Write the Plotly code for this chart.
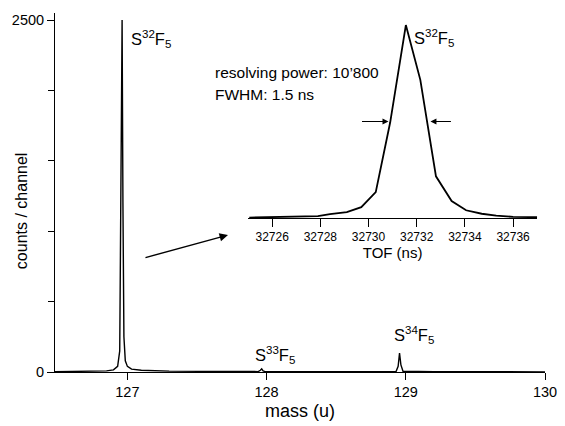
import plotly.graph_objects as go

# main spectrum (mass in u, counts per channel)
mass = [126.48, 126.70, 126.85, 126.90, 126.93, 126.945, 126.955, 126.962, 126.968,
        126.975, 126.985, 127.00, 127.03, 127.10, 127.30, 127.60, 127.94, 127.955,
        127.965, 127.975, 127.99, 128.50, 128.93, 128.945, 128.955, 128.965, 128.98,
        129.20, 130.00]
counts = [2, 3, 8, 15, 40, 150, 1200, 2500, 1200,
          250, 80, 40, 20, 12, 6, 4, 3, 12,
          22, 8, 3, 2, 3, 40, 135, 50, 5,
          2, 1]

# inset: S32F5 peak in time of flight
tof = [32725.05, 32726.0, 32727.2, 32727.9, 32728.4, 32729.1, 32729.7, 32730.3,
       32730.9, 32731.55, 32732.15, 32732.8, 32733.45, 32734.05, 32734.7, 32735.3,
       32736.0, 32737.0]
tof_counts = [5, 10, 15, 25, 50, 75, 140, 335,
              1240, 2500, 1790, 540, 220, 100, 55, 30,
              15, 10]

mass_ticks = [127, 128, 129, 130]
count_ticks = [0, 2500]
count_minor = [500, 1000, 1500, 2000]
tof_ticks = [32726, 32728, 32730, 32732, 32734, 32736]

FONT = 'Liberation Sans, Arial, sans-serif'

fig = go.Figure()
fig.add_trace(go.Scatter(x=mass, y=counts, mode='lines',
                         line=dict(color='black', width=1.4), xaxis='x', yaxis='y'))
fig.add_trace(go.Scatter(x=tof, y=tof_counts, mode='lines',
                         line=dict(color='black', width=1.8), xaxis='x2', yaxis='y2'))

# the page body adds an 8px margin, so the figure is 8px smaller than the window
fig.update_layout(
    width=557, height=418,
    margin=dict(l=47, r=20, t=5, b=54),
    paper_bgcolor='white', plot_bgcolor='white',
    showlegend=False,
    font=dict(family=FONT, size=15, color='black'),
    xaxis=dict(domain=[0, 1], range=[126.48, 130], tickvals=mass_ticks,
               ticks='outside', ticklen=7, tickcolor='black', showline=True,
               linecolor='black', linewidth=1, showgrid=False, zeroline=False,
               automargin=False, title=dict(text='mass (u)', standoff=4),
               tickfont=dict(size=14.5)),
    yaxis=dict(domain=[0, 1], range=[0, 2550], tickvals=count_ticks,
               ticks='outside', ticklen=7, tickcolor='black',
               minor=dict(tickvals=count_minor, ticks='outside', ticklen=6,
                          tickcolor='black'),
               showline=True, linecolor='black', linewidth=1, showgrid=False,
               zeroline=False, automargin=False, tickfont=dict(size=14.5)),
    xaxis2=dict(domain=[0.394, 0.984], anchor='y2', range=[32725, 32737],
                tickvals=tof_ticks, tickformat='d', ticks='outside', ticklen=8,
                tickcolor='black', showline=True, linecolor='black', linewidth=1,
                showgrid=False, zeroline=False, automargin=False,
                tickfont=dict(size=12),
                title=dict(text='TOF (ns)', standoff=2, font=dict(size=15))),
    yaxis2=dict(domain=[0.429, 0.9805], anchor='x2', range=[0, 2565], visible=False),
)

# y axis title
fig.add_annotation(text='counts / channel', xref='paper', yref='paper',
                   x=-0.068, y=0.45, xanchor='center', yanchor='middle',
                   textangle=-90, showarrow=False, font=dict(size=16))

lbl = dict(showarrow=False, xanchor='left', yanchor='middle', font=dict(size=16.5))
fig.add_annotation(text='S<sup>32</sup>F<sub>5</sub>', xref='paper', yref='paper',
                   x=0.151, y=0.928, **lbl)
fig.add_annotation(text='S<sup>32</sup>F<sub>5</sub>', xref='paper', yref='paper',
                   x=0.7286, y=0.930, **lbl)
fig.add_annotation(text='S<sup>33</sup>F<sub>5</sub>', xref='paper', yref='paper',
                   x=0.404, y=0.048, **lbl)
fig.add_annotation(text='S<sup>34</sup>F<sub>5</sub>', xref='paper', yref='paper',
                   x=0.688, y=0.103, **lbl)
txt = dict(showarrow=False, xanchor='left', yanchor='middle', font=dict(size=15.5))
fig.add_annotation(text='resolving power: 10’800', xref='paper', yref='paper',
                   x=0.322, y=0.833, **txt)
fig.add_annotation(text='FWHM: 1.5 ns', xref='paper', yref='paper',
                   x=0.322, y=0.772, **txt)

# arrow pointing to the inset
fig.add_annotation(x=0.353, y=0.3816, xref='paper', yref='paper', text='',
                   showarrow=True, ax=-84, ay=23, arrowhead=2, arrowsize=1.2,
                   arrowwidth=1.4, arrowcolor='black')
# FWHM arrows
fig.add_annotation(x=32730.83, y=1250, xref='x2', yref='y2', text='',
                   showarrow=True, ax=-28, ay=0, arrowhead=2, arrowsize=1,
                   arrowwidth=1.2, arrowcolor='black')
fig.add_annotation(x=32732.57, y=1250, xref='x2', yref='y2', text='',
                   showarrow=True, ax=22, ay=0, arrowhead=2, arrowsize=1,
                   arrowwidth=1.2, arrowcolor='black')

fig.write_html("out.html")
